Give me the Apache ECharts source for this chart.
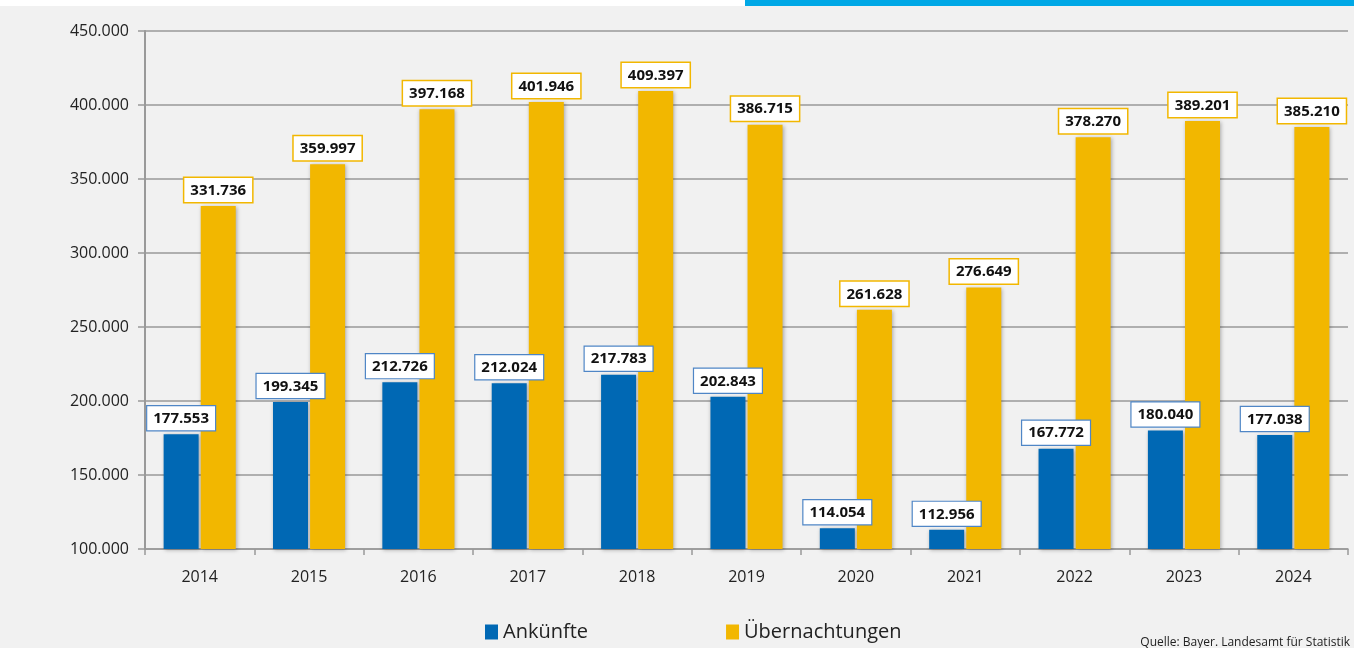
<!DOCTYPE html>
<html>
<head>
<meta charset="utf-8">
<script src="https://cdn.jsdelivr.net/npm/echarts@6/dist/echarts.min.js"></script>
<style>
  html, body { margin: 0; padding: 0; background: #f1f1f1; }
  #chart { width: 1354px; height: 648px; }
</style>
</head>
<body>
<div id="chart"></div>
<script>
const years = ["2014", "2015", "2016", "2017", "2018", "2019", "2020", "2021", "2022", "2023", "2024"];
const arrivals = [177553, 199345, 212726, 212024, 217783, 202843, 114054, 112956, 167772, 180040, 177038];
const overnights = [331736, 359997, 397168, 401946, 409397, 386715, 261628, 276649, 378270, 389201, 385210];

const fmt = (v) => String(v).replace(/\B(?=(\d{3})+(?!\d))/g, ".");
const FONT = "'Open Sans', 'Noto Sans', sans-serif";

const chart = echarts.init(document.getElementById("chart"));

function labelFor(border, width) {
  return {
    show: true,
    position: "top",
    distance: 4,
    formatter: ({ value }) => fmt(value),
    fontFamily: FONT,
    fontWeight: "bold",
    fontSize: 15,
    color: "#111",
    backgroundColor: "#fff",
    borderColor: border,
    borderWidth: width,
    padding: [5, 6, 4, 6],
  };
}

chart.setOption({
  animation: false,
  backgroundColor: "#f1f1f1",
  graphic: [
    { type: "rect", left: 0, top: 0, shape: { width: 1354, height: 6 }, style: { fill: "#fff" } },
    { type: "rect", left: 745, top: 0, shape: { width: 609, height: 6 }, style: { fill: "#00a8e6" } },
    {
      type: "text",
      right: 4,
      top: 637,
      style: { text: "Quelle: Bayer. Landesamt für Statistik", fontFamily: FONT, fontSize: 12, fill: "#222" },
    },
  ],
  legend: {
    left: 480,
    top: 617,
    itemWidth: 13,
    itemHeight: 15,
    itemGap: 138,
    icon: "rect",
    textStyle: { fontFamily: FONT, fontSize: 20, color: "#222" },
    data: ["Ankünfte", "Übernachtungen"],
  },
  grid: { left: 145, right: 6, top: 31, bottom: 99 },
  xAxis: {
    type: "category",
    data: years,
    axisLine: { show: true, lineStyle: { color: "#999", width: 1.5 } },
    axisTick: { show: true, length: 6, lineStyle: { color: "#999", width: 1.5 } },
    axisLabel: { fontFamily: FONT, fontSize: 16, color: "#222", margin: 20 },
  },
  yAxis: {
    type: "value",
    min: 100000,
    max: 450000,
    interval: 50000,
    axisLine: { show: true, lineStyle: { color: "#999", width: 2 } },
    axisTick: { show: true, length: 7, lineStyle: { color: "#999", width: 1.5 } },
    axisLabel: { fontFamily: FONT, fontSize: 16, color: "#222", margin: 16, formatter: (v) => fmt(v) },
    splitLine: { lineStyle: { color: "#999", width: 1.5 } },
  },
  series: [
    {
      name: "Ankünfte",
      type: "bar",
      data: arrivals,
      barWidth: 35,
      barGap: "6%",
      itemStyle: {
        color: "#0068b4",
        shadowBlur: 4,
        shadowColor: "rgba(0,0,0,0.3)",
        shadowOffsetX: 1,
        shadowOffsetY: 1,
      },
      label: labelFor("#4f86c6", 1.2),
    },
    {
      name: "Übernachtungen",
      type: "bar",
      data: overnights,
      barWidth: 35,
      itemStyle: {
        color: "#f2b700",
        shadowBlur: 4,
        shadowColor: "rgba(0,0,0,0.3)",
        shadowOffsetX: 1,
        shadowOffsetY: 1,
      },
      label: labelFor("#f2b700", 1.5),
    },
  ],
});
</script>
</body>
</html>
